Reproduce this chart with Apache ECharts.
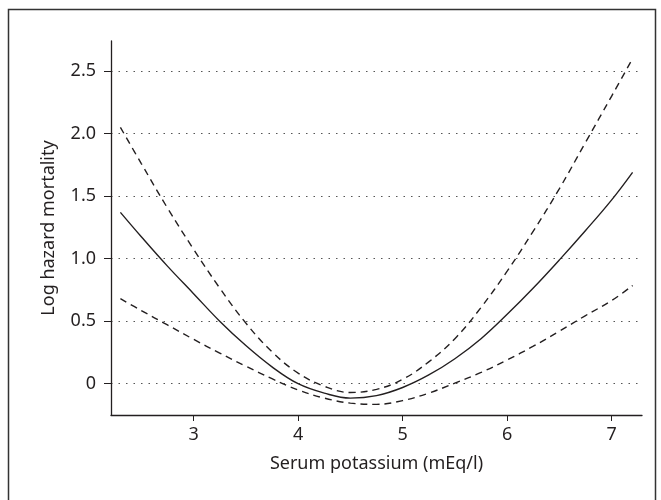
<!DOCTYPE html>
<html>
<head>
<meta charset="utf-8">
<script src="https://cdn.jsdelivr.net/npm/echarts@6/dist/echarts.min.js"></script>
<style>
    html, body { margin: 0; padding: 0; background: #fff; }
    #chart { width: 661px; height: 500px; }
</style>
</head>
<body>
<div id="chart"></div>
<script>
    // serum potassium values the curves are sampled at
    var potassium = [2.3, 2.5, 2.75, 3, 3.25, 3.5, 3.75, 4, 4.25, 4.5, 4.75, 5, 5.25, 5.5, 5.75, 6, 6.25, 6.5, 6.75, 7, 7.2];
    var estimate = [1.37, 1.175, 0.94, 0.72, 0.50, 0.305, 0.135, 0.0, -0.075, -0.115, -0.095, -0.03, 0.07, 0.20, 0.36, 0.555, 0.765, 0.99, 1.225, 1.47, 1.69];
    var upperCI = [2.05, 1.76, 1.405, 1.075, 0.765, 0.485, 0.255, 0.085, -0.02, -0.07, -0.045, 0.035, 0.175, 0.36, 0.61, 0.90, 1.22, 1.56, 1.93, 2.30, 2.6];
    var lowerCI = [0.68, 0.585, 0.47, 0.355, 0.245, 0.14, 0.04, -0.05, -0.115, -0.155, -0.165, -0.135, -0.075, 0.005, 0.09, 0.19, 0.30, 0.42, 0.545, 0.665, 0.785];
    var xTicks = [3, 4, 5, 6, 7];
    var yTicks = [0, 0.5, 1, 1.5, 2, 2.5];

    var ink = '#231f20';
    var font = 'Noto Sans';

    function pairs(x, y) {
        var d = [];
        for (var i = 0; i < x.length; i++) {
            d.push([x[i], y[i]]);
        }
        return d
    }

    function curve(values, dashed) {
        return {
            type: 'line',
            data: pairs(potassium, values),
            smooth: 0.4,
            showSymbol: false,
            silent: true,
            lineStyle: {
                color: ink,
                width: 1.4,
                type: dashed ? [7, 5] : 'solid'
            }
        }
    }

    var chart = echarts.init(document.getElementById('chart'));
    chart.setOption({
        animation: false,
        textStyle: { fontFamily: font },
        graphic: [{
            type: 'rect',
            shape: { x: 8.5, y: 9.5, width: 647, height: 510 },
            style: { fill: 'none', stroke: '#333', lineWidth: 1.5 },
            silent: true
        }],
        grid: { left: 111, right: 19, top: 41, bottom: 85 },
        xAxis: {
            type: 'value',
            min: 2.21,
            max: 7.29,
            name: 'Serum potassium (mEq/l)',
            nameLocation: 'middle',
            nameGap: 40,
            nameTextStyle: { fontSize: 18, color: ink, fontFamily: font },
            axisLine: { onZero: false, lineStyle: { color: ink, width: 1.3 } },
            axisTick: { customValues: xTicks, length: 6, lineStyle: { color: ink } },
            axisLabel: { customValues: xTicks, margin: 11, fontSize: 18, color: ink, fontFamily: font },
            splitLine: { show: false }
        },
        yAxis: {
            type: 'value',
            min: -0.25,
            max: 2.74,
            name: 'Log hazard mortality',
            nameLocation: 'middle',
            nameGap: 53,
            nameTextStyle: { fontSize: 18, color: ink, fontFamily: font },
            axisLine: { show: true, onZero: false, lineStyle: { color: ink, width: 1.3 } },
            axisTick: { show: true, customValues: yTicks, length: 7, lineStyle: { color: ink } },
            axisLabel: {
                customValues: yTicks,
                margin: 15,
                fontSize: 18,
                color: ink,
                fontFamily: font,
                formatter: function (v) { return v === 0 ? '0' : v.toFixed(1) }
            },
            splitLine: {
                show: true,
                lineStyle: { color: '#555', width: 1.2, type: [1.5, 6] }
            }
        },
        series: [
            curve(estimate, false),
            curve(upperCI, true),
            curve(lowerCI, true)
        ]
    });
</script>
</body>
</html>
